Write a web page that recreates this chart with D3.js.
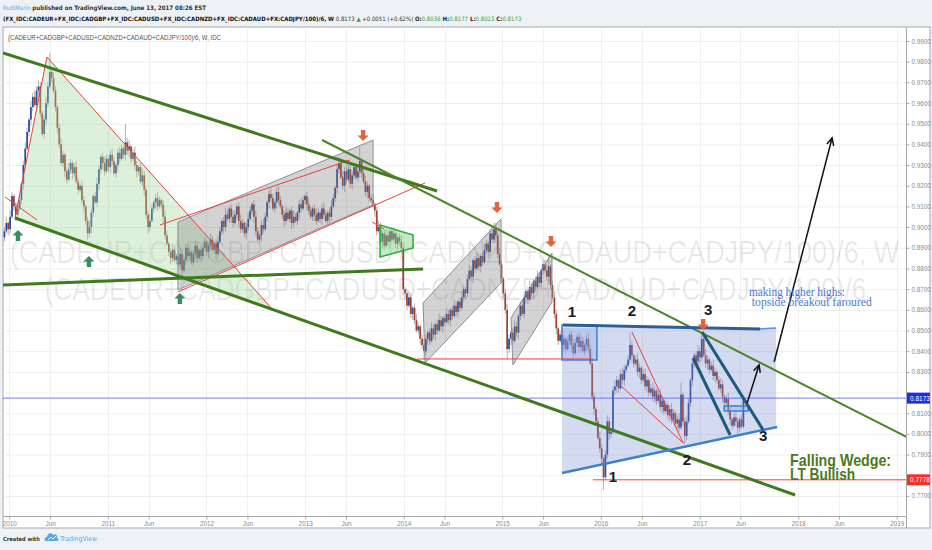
<!DOCTYPE html>
<html><head><meta charset="utf-8">
<script src="https://cdn.jsdelivr.net/npm/d3@7"></script>
<style>body{margin:0;background:#eef2f6;}svg{display:block}</style>
</head><body><svg id="c" width="932" height="550"></svg>
<script>
// ---------- DATA ----------
// weekly closes (x 0.001), first week starts 2009-12-14
const firstWeek = "2009-12-14";
const closes = [
898,902,899,905,915,910,906,909,913,921,930,938,946,
952,958,963,959,966,968,955,945,952,960,968,975,972,
966,958,948,940,931,935,927,923,928,931,926,929,922,
918,920,913,910,903,897,900,907,915,912,921,928,934,
931,927,933,929,935,932,926,930,936,933,938,935,941,
937,939,933,936,930,927,929,922,925,918,906,900,903,
909,912,914,910,913,911,905,896,892,888,885,889,884,
886,882,887,879,884,890,886,888,883,887,891,885,889,
886,890,893,888,891,894,889,892,887,893,898,903,900,
906,904,909,905,902,906,910,903,899,902,897,900,904,
908,911,905,898,894,896,901,899,905,912,916,914,909,
912,917,913,910,906,903,907,904,908,902,905,903,907,
911,909,913,915,911,908,905,909,906,903,907,904,909,
906,903,907,905,910,914,919,928,931,924,920,927,923,
928,921,925,929,924,927,932,926,922,917,920,914,913,
911,908,898,900,893,897,891,896,893,898,894,897,892,
895,893,890,870,868,862,866,858,861,855,850,852,846,
843,840,846,849,845,851,848,853,850,855,852,856,854,
858,855,860,857,862,859,864,861,866,870,868,875,879,
876,884,880,885,881,886,883,889,892,888,897,894,899,
896,887,882,875,868,860,841,846,849,845,852,849,857,
862,858,866,869,865,871,868,874,871,876,873,879,882,
879,876,881,872,866,858,851,845,848,843,846,841,845,
848,843,839,844,847,842,845,840,843,846,841,834,818,
812,806,798,793,788,779,790,806,800,801,821,823,826,
822,829,826,831,833,836,843,838,834,836,830,832,826,
829,823,826,820,822,818,821,816,819,813,816,811,814,
809,812,807,810,805,807,803,819,806,799,806,815,826,
834,838,835,840,837,846,838,834,836,831,833,828,830,
826,822,824,818,815,817,811,807,804,808,806,803,807,803.6,817.3
];
const firstOpen = 895;
// upper / lower wick length beyond body (x 0.001), one digit per week
const upWick =
"2313212321232"+"1323232123292"+"3212321232123"+"2132123212321"+"2321232123219"+
"2312321232123"+"2123212321232"+"1232123212321"+"2321232123212"+"3212321232123"+
"2123212321232"+"1232123212321"+"2321232123212"+"3212321232323"+"2321237123212"+
"2123212321232"+"1232123212321"+"2321232123212"+"3212321232123"+"2123212321233"+
"3232123212321"+"2321232123212"+"2351232123212"+"1232123212322"+"2123212321232"+
"1232126212321"+"2321232123212"+"1232123612321"+"2123232321232"+"123212321232120";
const dnWick =
"2132123212321"+"2321232123212"+"1232123212321"+"2123232321232"+"3212321232123"+
"2321232123232"+"1232123212321"+"2125123212321"+"3212321232123"+"2123212321232"+
"1232123212321"+"2321232123212"+"3212321232123"+"2123212321232"+"1232123212321"+
"2321232123212"+"3213321232123"+"2423212321232"+"1232123212321"+"2321232123212"+
"3212325232123"+"2123212321232"+"1232123212321"+"2321232123212"+"3212361232123"+
"2123212321232"+"1232123212321"+"2321232124212"+"3212321232123"+"212321232123211";

const yTickValues = [0.77,0.78,0.79,0.80,0.81,0.82,0.83,0.84,0.85,0.86,0.87,0.88,0.89,0.90,0.91,0.92,0.93,0.94,0.95,0.96,0.97,0.98,0.99];
const xTickDates = ["2010-01-01","2010-06-01","2011-01-01","2011-06-01","2012-01-01","2012-06-01","2013-01-01","2013-06-01",
  "2014-01-01","2014-06-01","2015-01-01","2015-06-01","2016-01-01","2016-06-01","2017-01-01","2017-06-01","2018-01-01","2018-06-01","2019-01-01"];
const lastPrice = 0.8173;
const supportPrice = 0.7778;
const supportFrom = 2015.920;

// drawings, points as [decimal year, price]
const greenThick = [
  [[2009.936,0.98420],[2014.338,0.91747]],
  [[2010.058,0.90441],[2017.969,0.77046]],
  [[2009.936,0.87201],[2014.196,0.87975]]
];
const greenThin = [[[2013.171,0.94213],[2019.100,0.79851]]];
const greenTri = [[2010.058,0.90441],[2010.382,0.98226],[2012.674,0.85992]];
const redLines = [
  [[2010.058,0.90441],[2010.382,0.98226]],
  [[2010.382,0.98226],[2012.674,0.85992]],
  [[2009.956,0.91456],[2010.281,0.90344]],
  [[2011.711,0.86863],[2014.216,0.92133]],
  [[2011.528,0.90103],[2013.455,0.93246]],
  [[2014.135,0.83623],[2015.920,0.83623]],
  [[2016.315,0.84928],[2016.833,0.79561]],
  [[2016.194,0.82366],[2016.833,0.79561]],
  [[2013.679,0.90248],[2013.800,0.89900]]
];
const grayChannels = [
  [[2011.711,0.90248],[2013.689,0.94213],[2013.689,0.91070],[2011.711,0.86960]],
  [[2014.196,0.86331],[2014.987,0.90393],[2014.987,0.87298],[2014.216,0.83429]],
  [[2015.088,0.85605],[2015.504,0.88749],[2015.504,0.86379],[2015.108,0.83333]]
];
const pennant = [[2013.760,0.90103],[2014.094,0.89619],[2014.094,0.88990],[2013.760,0.88555]];
const blueZone = [[2015.606,0.85122],[2017.776,0.85122],[2017.776,0.80335],[2015.606,0.78159]];
const blueTop = [[[2015.616,0.85267],[2017.614,0.85074]],[[2017.614,0.85074],[2017.776,0.85122]]];
const blueBottom = [[2015.606,0.78110],[2017.786,0.80335]];
const blueBoxes = [[[2015.606,0.85267],[2015.960,0.83574]],[[2017.249,0.81350],[2017.492,0.81108]]];
const tealLines = [[[2016.934,0.83671],[2017.309,0.79948]],[[2017.025,0.84928],[2017.644,0.80190]]];
const blackArrows = [[[2017.482,0.81495],[2017.603,0.83333]],[[2017.756,0.83478],[2018.344,0.94310]]];
const upArrows = [[2010.088,0.89861],[2010.808,0.88603],[2011.731,0.86814]];
const downArrows = [[2013.587,0.94164],[2014.946,0.90683],[2015.494,0.89039],[2017.036,0.85025]];
const waveLabels = [["1",2015.707,0.85896],["2",2016.315,0.85944],["3",2017.086,0.85992],
                    ["1",2016.123,0.77917],["2",2016.871,0.78739],["3",2017.644,0.79899]];
const noteLines = [["making higher highs:",2017.500,0.86669,96],["topside breakout faroured",2017.530,0.86186,120]];
const wedgeLines = [["Falling Wedge:",2017.918,0.78449,101],["LT Bullish",2017.918,0.77772,65]];
const symbolName = "(CADEUR+CADGBP+CADUSD+CADNZD+CADAUD+CADJPY/100)/6";

// ---------- SCALES ----------
function yd(t){const y=Math.floor(t);const a=Date.UTC(y,0,1),b=Date.UTC(y+1,0,1);return new Date(a+(t-y)*(b-a));}
const L=3,R=906,T=27,B=516;
const x=d3.scaleUtc().domain([yd(2009.936),yd(2019.094)]).range([L,R]);
const y=d3.scaleLinear().domain([0.7603,0.99677]).range([B,T]);
const px=p=>[x(yd(p[0])),y(p[1])];
const FF="Liberation Sans, Arial, sans-serif";
const FC="DejaVu Sans Condensed, Liberation Sans Narrow, Liberation Sans, sans-serif";

const svg=d3.select("#c");
svg.append("rect").attr("width",932).attr("height",550).attr("fill","#eef2f6");
svg.append("rect").attr("x",L).attr("y",T).attr("width",930-L).attr("height",528-T).attr("fill","#fff").attr("stroke","#a8a8a8");
const defs=svg.append("defs");
defs.append("clipPath").attr("id","clip").append("rect").attr("x",L).attr("y",T).attr("width",R-L).attr("height",B-T);

// grid
const grid=svg.append("g").attr("clip-path","url(#clip)");
grid.selectAll(".hg").data(yTickValues).join("line").attr("x1",L).attr("x2",R)
  .attr("y1",d=>y(d)+.5).attr("y2",d=>y(d)+.5).attr("stroke","#efefef");
const xDates=xTickDates.map(s=>new Date(s+"T00:00:00Z"));
grid.selectAll(".vg").data(xDates).join("line").attr("y1",T).attr("y2",B)
  .attr("x1",d=>Math.round(x(d))+.5).attr("x2",d=>Math.round(x(d))+.5).attr("stroke","#efefef");

// watermark: horizontally scaled text centred on the plot
function scaledText(parent,cx,yb,width,size,fam,str){
  const g=parent.append("g");
  const t=g.append("text").attr("x",0).attr("y",0).attr("font-size",size).attr("font-family",fam).attr("text-anchor","middle").text(str);
  const k=width/t.node().getComputedTextLength();
  g.attr("transform",`translate(${cx},${yb}) scale(${k},1)`);
  return t;
}
const wm=svg.append("g").attr("fill","#000").attr("fill-opacity",0.09);
scaledText(wm,(L+R)/2,263,890,32,FF,symbolName+", W");
scaledText(wm,(L+R)/2+1,300,822,32,FF,symbolName);

// candles
const plot=svg.append("g").attr("clip-path","url(#clip)");
const t0=new Date(firstWeek+"T00:00:00Z");
const candles=closes.map((c,i)=>{
  const o=(i===0?firstOpen:closes[i-1])/1000, cl=c/1000;
  const hi=Math.max(o,cl)+(+upWick[i])/1000, lo=Math.min(o,cl)-(+dnWick[i])/1000;
  return {d:d3.utcDay.offset(t0,7*i),o,c:cl,h:hi,l:lo};
});
const cg=plot.append("g");
cg.selectAll(".w").data(candles).join("line").attr("x1",d=>x(d.d)).attr("x2",d=>x(d.d))
  .attr("y1",d=>y(d.h)).attr("y2",d=>y(d.l)).attr("stroke","#a0a0a0").attr("stroke-width",0.8);
cg.selectAll(".b").data(candles).join("rect").attr("x",d=>x(d.d)-0.85).attr("width",1.7)
  .attr("y",d=>y(Math.max(d.o,d.c))).attr("height",d=>Math.max(0.8,Math.abs(y(d.o)-y(d.c))))
  .attr("fill",d=>d.c>=d.o?"#2a4a9c":"#a33f2d");

// drawings
const dg=plot.append("g");
const line=d3.line().x(p=>px(p)[0]).y(p=>px(p)[1]);
const poly=pts=>line(pts)+"Z";
dg.append("path").attr("d",poly(greenTri)).attr("fill","#9fd49a").attr("fill-opacity",0.35);
grayChannels.forEach(c=>dg.append("path").attr("d",poly(c)).attr("fill","#7a7a7a").attr("fill-opacity",0.33).attr("stroke","#8d8d9d").attr("stroke-width",1));
dg.append("path").attr("d",poly(pennant)).attr("fill","#7fcf7f").attr("fill-opacity",0.45).attr("stroke","#2fae3f").attr("stroke-width",1.6);
dg.append("path").attr("d",poly(blueZone)).attr("fill","#6f84cc").attr("fill-opacity",0.3);
blueBoxes.forEach(b=>{const a=px(b[0]),c=px(b[1]);
  dg.append("rect").attr("x",a[0]).attr("y",a[1]).attr("width",c[0]-a[0]).attr("height",c[1]-a[1])
    .attr("fill","#8aa6e6").attr("fill-opacity",0.35).attr("stroke","#3f7fd0").attr("stroke-width",1.5);});
redLines.forEach(l=>dg.append("path").attr("d",line(l)).attr("stroke","#e8413a").attr("stroke-width",1).attr("fill","none"));
dg.append("line").attr("x1",x(yd(supportFrom))).attr("x2",R).attr("y1",y(supportPrice)).attr("y2",y(supportPrice)).attr("stroke","#f2453d").attr("stroke-width",1);
dg.append("line").attr("x1",L).attr("x2",R).attr("y1",y(lastPrice)).attr("y2",y(lastPrice)).attr("stroke","#5656ee").attr("stroke-width",0.8);
greenThick.forEach(l=>dg.append("path").attr("d",line(l)).attr("stroke","#3f7a1c").attr("stroke-width",3).attr("fill","none"));
greenThin.forEach(l=>dg.append("path").attr("d",line(l)).attr("stroke","#4a8526").attr("stroke-width",2).attr("fill","none"));
blueTop.forEach((l,i)=>dg.append("path").attr("d",line(l)).attr("stroke",i?"#5b8fd6":"#2d5f95").attr("stroke-width",i?1.5:3).attr("fill","none"));
dg.append("path").attr("d",line(blueBottom)).attr("stroke","#3f7fcf").attr("stroke-width",2.5).attr("fill","none");
tealLines.forEach(l=>dg.append("path").attr("d",line(l)).attr("stroke","#1e5a7a").attr("stroke-width",3).attr("fill","none"));
blackArrows.forEach(l=>{const a=px(l[0]),b=px(l[1]);
  dg.append("line").attr("x1",a[0]).attr("y1",a[1]).attr("x2",b[0]).attr("y2",b[1]).attr("stroke","#111").attr("stroke-width",1.5);
  const ang=Math.atan2(b[1]-a[1],b[0]-a[0]),s=8;
  const h=d3.path();h.moveTo(b[0]-s*Math.cos(ang-0.45),b[1]-s*Math.sin(ang-0.45));h.lineTo(b[0],b[1]);h.lineTo(b[0]-s*Math.cos(ang+0.45),b[1]-s*Math.sin(ang+0.45));
  dg.append("path").attr("d",h.toString()).attr("stroke","#111").attr("stroke-width",1.5).attr("fill","none");});
dg.selectAll(".ua").data(upArrows).join("path").attr("transform",d=>`translate(${px(d)})`)
  .attr("d","M0,0L5.5,5.5L2.2,5.5L2.2,11L-2.2,11L-2.2,5.5L-5.5,5.5Z").attr("fill","#3b8b62");
dg.selectAll(".da").data(downArrows).join("path").attr("transform",d=>`translate(${px(d)})`)
  .attr("d","M0,0L5.5,-5.5L2.2,-5.5L2.2,-11L-2.2,-11L-2.2,-5.5L-5.5,-5.5Z").attr("fill","#e2633d");

// annotation texts
const tg=svg.append("g");
tg.selectAll(".wl").data(waveLabels).join("text").attr("x",d=>px([d[1],d[2]])[0]).attr("y",d=>px([d[1],d[2]])[1])
  .attr("dominant-baseline","central").attr("text-anchor","middle").attr("font-family",FF)
  .attr("font-weight","bold").attr("font-size",15).attr("fill","#1c1c1c").text(d=>d[0]);
tg.selectAll(".nl").data(noteLines).join("text").attr("x",d=>px([d[1],d[2]])[0]).attr("y",d=>px([d[1],d[2]])[1])
  .attr("font-family","Liberation Serif, serif").attr("font-size",11.5).attr("fill","#4a78d8")
  .attr("textLength",d=>d[3]).attr("lengthAdjust","spacingAndGlyphs").text(d=>d[0]);
tg.selectAll(".fw").data(wedgeLines).join("text").attr("x",d=>px([d[1],d[2]])[0]).attr("y",d=>px([d[1],d[2]])[1])
  .attr("font-family",FF).attr("font-weight","bold").attr("font-size",17).attr("fill","#4b7a1c")
  .attr("textLength",d=>d[3]).attr("lengthAdjust","spacingAndGlyphs").text(d=>d[0]);

// axes
svg.append("line").attr("x1",R+.5).attr("x2",R+.5).attr("y1",T).attr("y2",528).attr("stroke","#a8a8a8");
svg.append("line").attr("x1",L).attr("x2",R).attr("y1",B+.5).attr("y2",B+.5).attr("stroke","#a8a8a8");
const priceTags=[[lastPrice,"#1f2fe0"],[supportPrice,"#f2312b"]];
const yAxis=d3.axisRight(y).tickValues(yTickValues).tickSize(3).tickFormat(d3.format(".4f"));
const ya=svg.append("g").attr("transform",`translate(${R+.5},0)`).call(yAxis);
ya.select(".domain").remove();
ya.selectAll("line").attr("stroke","#aaa");
ya.selectAll("text").attr("font-family",FF).attr("font-size",6.3).attr("fill","#8a8a8a").attr("dx",-1)
  .attr("display",d=>priceTags.some(([v])=>Math.abs(y(v)-y(d))<10)?"none":null);
const xAxis=d3.axisBottom(x).tickValues(xDates).tickSize(3).tickFormat(d=>d.getUTCMonth()===0?d3.utcFormat("%Y")(d):"Jun");
const xa=svg.append("g").attr("transform",`translate(0,${B+.5})`).call(xAxis);
xa.select(".domain").remove();
xa.selectAll("line").attr("stroke","#aaa");
xa.selectAll("text").attr("font-family",FF).attr("font-size",6.3).attr("fill","#8a8a8a").attr("dy","0.5em");

// price labels on axis
priceTags.forEach(([v,c])=>{
  svg.append("rect").attr("x",R+1).attr("y",y(v)-5.5).attr("width",23).attr("height",11).attr("fill",c);
  svg.append("text").attr("x",R+4).attr("y",y(v)).attr("dominant-baseline","central").attr("font-family",FF)
    .attr("font-size",6.5).attr("fill","#fff").text(d3.format(".4f")(v));
});

// inner legend
svg.append("text").attr("x",8).attr("y",40).attr("font-family",FF).attr("font-size",8)
  .attr("fill","#555").attr("textLength",213).attr("lengthAdjust","spacingAndGlyphs").text(symbolName+", W, IDC");

// sequential run of text pieces scaled to a target width
function runText(x0,yb,width,size,fam,parts){
  const g=svg.append("g").attr("font-family",fam);
  const nodes=parts.map(([s,c,w])=>g.append("text").attr("y",yb).attr("font-size",size).attr("fill",c).attr("font-weight",w)
     .attr("xml:space","preserve").style("white-space","pre").text(s));
  const total=d3.sum(nodes,n=>n.node().getComputedTextLength());
  const k=width/total; let cx=x0;
  nodes.forEach(n=>{n.attr("font-size",size*k).attr("x",cx); cx+=n.node().getComputedTextLength();});
}
runText(3,9.5,203,8.5,FC,[["RudiMarin","#5fa6dc","normal"],[" published on TradingView.com, June 13, 2017 08:26 EST","#333","bold"]]);
runText(3,20.5,519,8.5,FC,[
 ["(FX_IDC:CADEUR+FX_IDC:CADGBP+FX_IDC:CADUSD+FX_IDC:CADNZD+FX_IDC:CADAUD+FX:CADJPY/100)/6, W","#111","bold"],
 [" 0.8173 ","#333","normal"],["▲","#3aa23a","normal"],[" +0.0051 (+0.62%) ","#333","normal"],
 ["O:","#222","bold"],["0.8036","#3aa23a","normal"],[" H:","#222","bold"],["0.8177","#3aa23a","normal"],
 [" L:","#222","bold"],["0.8023","#3aa23a","normal"],[" C:","#222","bold"],["0.8173","#3aa23a","normal"]]);

// footer
runText(3,541,37,9,FC,[["Created with","#333","bold"]]);
svg.append("path").attr("transform","translate(45,531)")
  .attr("d","M1,10 C-1,10 -1,6 2,6 C2,2 7,1 8,4 C10,2 13,4 12,7 C14,7 14,10 12,10 Z").attr("fill","#5aa6df");
svg.append("path").attr("transform","translate(45,531)").attr("d","M3,9 L6,6 L8,8 L11,5").attr("stroke","#fff").attr("stroke-width",1).attr("fill","none");
runText(60,541,37,9,FC,[["TradingView","#5aa6df","normal"]]);
</script></body></html>
